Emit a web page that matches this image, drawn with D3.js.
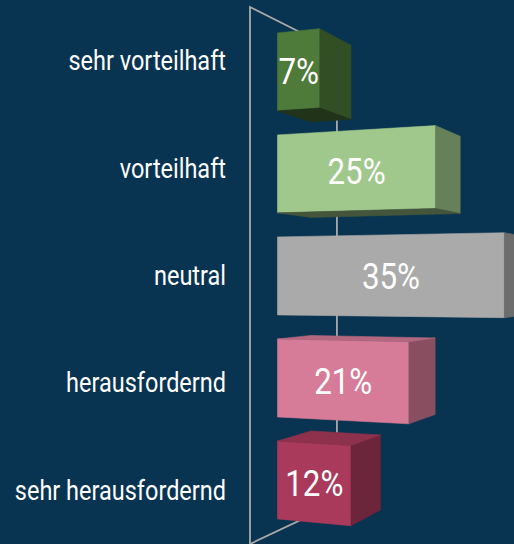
<!DOCTYPE html>
<html>
<head>
<meta charset="utf-8">
<script src="https://cdn.jsdelivr.net/npm/d3@7"></script>
<style>
  html, body { margin: 0; padding: 0; background: #083451; }
  svg { display: block; }
</style>
</head>
<body>
<div id="chart"></div>
<script>
// data
const categories = ["sehr vorteilhaft", "vorteilhaft", "neutral", "herausfordernd", "sehr herausfordernd"]
const values = [7, 25, 35, 21, 12]
const valueLabels = ["7%", "25%", "35%", "21%", "12%"]

// styles
const barColors = ["#4e7a3a", "#a0c88c", "#aaaaaa", "#d67c98", "#aa3a5c"]
const width = 514, height = 544

// 3d view: rotation around the vertical axis + perspective
const view = {
  theta: 20 * Math.PI / 180,
  dist: 982,   // view distance
  eyeX: 443,
  eyeY: 284,
  originX: 250, // screen x of value 0 on the front plane
  frameDepth: 196,
  barFront: 55,
  barBack: 130
}
const cosT = Math.cos(view.theta), sinT = Math.sin(view.theta)

function rotate(u, v, w) {
  return [view.originX + u * cosT + w * sinT, v, -u * sinT + w * cosT]
}

function project(u, v, w) {
  const [xr, yr, zr] = rotate(u, v, w)
  const s = view.dist / (view.dist + zr)
  return [view.eyeX + (xr - view.eyeX) * s, view.eyeY + (yr - view.eyeY) * s]
}

// scales (world units)
const x = d3.scaleLinear().domain([0, 40]).range([0, 284])
const y = d3.scaleBand().domain(categories).range([7, 544]).paddingInner(0.236).paddingOuter(0.118)

const svg = d3.create("svg")
    .attr("width", width)
    .attr("height", height)
    .attr("viewBox", [0, 0, width, height])

svg.append("rect")
    .attr("width", width)
    .attr("height", height)
    .attr("fill", "#083451")

// frame (left wall at value 0)
const [v0, v1] = y.range()
const framePts = [
  project(0, v0, 0),
  project(0, v0, view.frameDepth),
  project(0, v1, view.frameDepth),
  project(0, v1, 0)
]
svg.append("path")
    .attr("d", d3.line()(framePts) + "Z")
    .attr("fill", "none")
    .attr("stroke", "#a9a9a9")
    .attr("stroke-width", 1.8)

// faces of a box; corners given as [u, v, w] index flags
const faces = [
  { name: "front",  pts: [[0,0,0],[1,0,0],[1,1,0],[0,1,0]], n: [0, 0, -1] },
  { name: "back",   pts: [[0,0,1],[1,0,1],[1,1,1],[0,1,1]], n: [0, 0, 1] },
  { name: "left",   pts: [[0,0,0],[0,0,1],[0,1,1],[0,1,0]], n: [-1, 0, 0] },
  { name: "right",  pts: [[1,0,0],[1,0,1],[1,1,1],[1,1,0]], n: [1, 0, 0] },
  { name: "top",    pts: [[0,0,0],[1,0,0],[1,0,1],[0,0,1]], n: [0, -1, 0] },
  { name: "bottom", pts: [[0,1,0],[1,1,0],[1,1,1],[0,1,1]], n: [0, 1, 0] }
]

function faceColor(base, name) {
  const c = d3.rgb(base)
  if (name === "right") return c.darker(1.25)
  if (name === "top") return c.darker(0.5)
  if (name === "bottom") return c.darker(2.4)
  if (name === "left" || name === "back") return c.darker(1.5)
  return c
}

const eye = [view.eyeX, view.eyeY, -view.dist]

const bars = svg.append("g")

categories.forEach((cat, i) => {
  const U = [0, x(values[i])]
  const V = [y(cat), y(cat) + y.bandwidth()]
  const W = [view.barFront, view.barBack]
  const g = bars.append("g")

  faces.forEach(f => {
    const world = f.pts.map(p => [U[p[0]], V[p[1]], W[p[2]]])
    const cu = d3.mean(world, p => p[0]), cv = d3.mean(world, p => p[1]), cw = d3.mean(world, p => p[2])
    const P = rotate(cu, cv, cw)
    const n = [f.n[0] * cosT + f.n[2] * sinT, f.n[1], -f.n[0] * sinT + f.n[2] * cosT]
    const dot = (eye[0] - P[0]) * n[0] + (eye[1] - P[1]) * n[1] + (eye[2] - P[2]) * n[2]
    if (dot <= 0) return
    const col = faceColor(barColors[i], f.name)
    g.append("path")
        .attr("d", d3.line()(world.map(p => project(p[0], p[1], p[2]))) + "Z")
        .attr("fill", col)
        .attr("stroke", col)
        .attr("stroke-width", 0.6)
        .attr("stroke-linejoin", "round")
  })

  // value label centred on the projected front face
  const vc = V[0] + y.bandwidth() / 2
  const pl = project(U[0], vc, view.barFront), pr = project(U[1], vc, view.barFront)
  const lx = (pl[0] + pr[0]) / 2, ly = (pl[1] + pr[1]) / 2
  g.append("text")
      .attr("transform", `translate(${lx},${ly + 1}) scale(0.87,1)`)
      .attr("text-anchor", "middle")
      .attr("dy", "0.35em")
      .attr("fill", "#ffffff")
      .attr("font-family", "Roboto, sans-serif")
      .attr("font-size", 36)
      .text(valueLabels[i])
})

// category labels
svg.append("g")
  .selectAll("text")
  .data(categories)
  .join("text")
    .attr("transform", d => {
      const [, ly] = project(0, y(d) + y.bandwidth() / 2, 0)
      return `translate(226,${ly}) scale(0.87,1)`
    })
    .attr("text-anchor", "end")
    .attr("dy", "0.35em")
    .attr("fill", "#ffffff")
    .attr("font-family", "Roboto, sans-serif")
    .attr("font-size", 27)
    .text(d => d)

document.querySelector("#chart").append(svg.node())
</script>
</body>
</html>
